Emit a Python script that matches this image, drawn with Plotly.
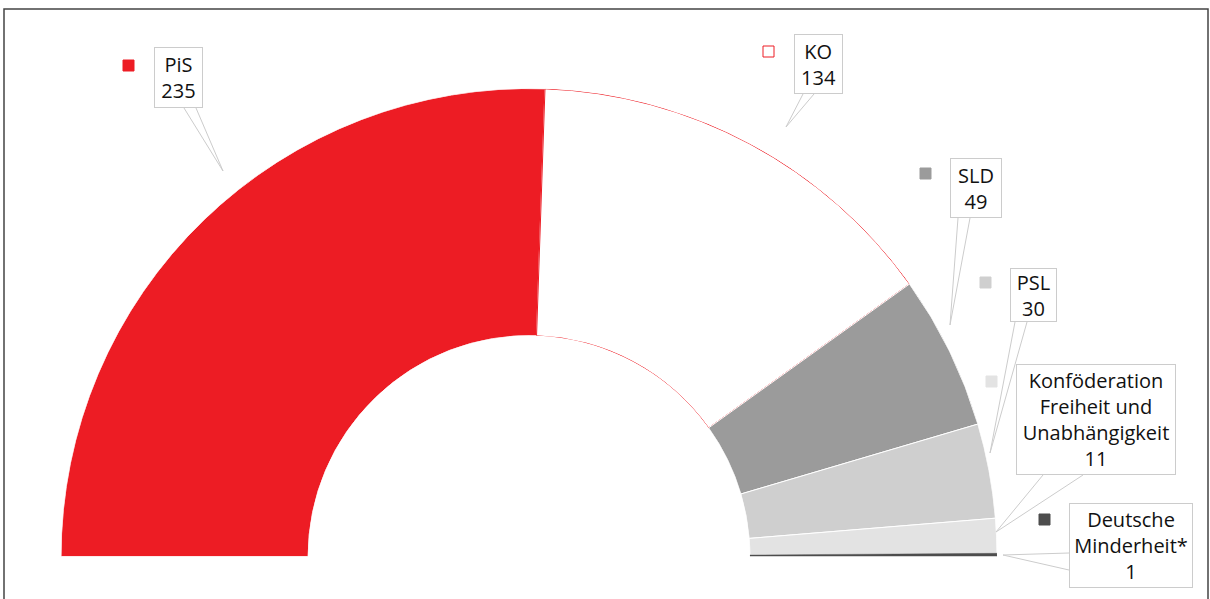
import plotly.graph_objects as go

# Sitze im Sejm 2019
parteien = ["PiS", "KO", "SLD", "PSL", "Konföderation<br>Freiheit und<br>Unabhängigkeit", "Deutsche<br>Minderheit*"]
sitze = [235, 134, 49, 30, 11, 1]
farben = ["#ED1C24", "#FFFFFF", "#9B9B9B", "#CFCFCF", "#E3E3E3", "#4D4D4D"]
randfarben = ["#FFFFFF", "#ED1C24", "#FFFFFF", "#FFFFFF", "#FFFFFF", "#4D4D4D"]
randbreiten = [1, 1, 1, 1, 1, 0.5]

W, H = 1210, 599


def px(x):
    return x / W


def py(y):
    return 1 - y / H


# Winkel: Halbkreis = alle Sitze
gesamt = sum(sitze)
breiten = [s / gesamt * 180 for s in sitze]
mitten = []
acc = 0
for b in breiten:
    mitten.append(acc + b / 2)
    acc += b

fig = go.Figure()
fig.add_trace(go.Barpolar(
    r=[1] * len(sitze), theta=mitten, width=breiten,
    marker=dict(color=farben, line=dict(color=randfarben, width=randbreiten)),
    hovertext=[p.replace("<br>", " ") + ": " + str(s) for p, s in zip(parteien, sitze)],
    hoverinfo="text",
))

# Beschriftungen: (Box links, oben, rechts, unten), Quadrat, Spitze der Sprechblase
labels = [
    dict(box=(154, 47, 203, 108), sq=(123, 60), tail=[(184, 108), (223, 171), (196, 108)]),
    dict(box=(794, 34, 843, 94), sq=(763, 46), tail=[(803, 94), (786, 127), (814, 94)]),
    dict(box=(950, 158, 1002, 218), sq=(920, 168), tail=[(958, 218), (950, 325), (970, 218)]),
    dict(box=(1010, 268, 1057, 322), sq=(980, 277), tail=[(1015, 322), (990, 453), (1027, 322)]),
    dict(box=(1016, 364, 1176, 475), sq=(986, 376), tail=[(1043, 475), (996, 532), (1083, 475)]),
    dict(box=(1069, 503, 1193, 588), sq=(1039, 514), tail=[(1069, 553), (1003, 555), (1069, 570)]),
]

shapes = []
annotations = []
for i, lab in enumerate(labels):
    x0, y0, x1, y1 = lab["box"]
    t = lab["tail"]
    path = "M {} {} L {} {} L {} {}".format(px(t[0][0]), py(t[0][1]), px(t[1][0]), py(t[1][1]),
                                              px(t[2][0]), py(t[2][1]))
    shapes.append(dict(type="path", xref="paper", yref="paper", path=path,
                       line=dict(color="#CCCCCC", width=1), fillcolor="white"))
    sx, sy = lab["sq"]
    shapes.append(dict(type="rect", xref="paper", yref="paper",
                       x0=px(sx), x1=px(sx + 11), y0=py(sy + 11), y1=py(sy),
                       fillcolor=farben[i] if i != 1 else "white",
                       line=dict(color=farben[i] if i != 1 else "#ED1C24", width=1)))
    annotations.append(dict(
        x=px((x0 + x1) / 2), y=py((y0 + y1) / 2), xref="paper", yref="paper",
        xanchor="center", yanchor="middle", showarrow=False,
        text=parteien[i] + "<br>" + str(sitze[i]),
        width=x1 - x0 - 4, height=y1 - y0 - 4, borderpad=1,
        bgcolor="white", bordercolor="#CCCCCC", borderwidth=1,
        font=dict(size=20, color="#111111", family="Open Sans"),
    ))

# Rahmen
shapes.append(dict(type="rect", xref="paper", yref="paper",
                   x0=px(4), x1=px(1208), y0=-0.1, y1=py(9),
                   line=dict(color="#444444", width=1.5), fillcolor="rgba(0,0,0,0)", layer="below"))

fig.update_layout(
    width=W, height=H, autosize=False,
    margin=dict(l=0, r=0, t=0, b=0),
    paper_bgcolor="white", plot_bgcolor="white",
    showlegend=False,
    polar=dict(
        domain=dict(x=[px(61), px(997)], y=[py(557), py(88)]),
        sector=[0, 180], hole=0.472, bgcolor="rgba(0,0,0,0)",
        radialaxis=dict(visible=False, range=[0, 1]),
        angularaxis=dict(rotation=180, direction="clockwise", showgrid=False, showline=False,
                         showticklabels=False, ticks=""),
    ),
    shapes=shapes,
    annotations=annotations,
)

# Browser-Standardrand entfernen, damit die Grafik bei (0, 0) beginnt
fig.write_html("out.html", config={"displayModeBar": False},
               post_script="document.body.style.margin='0';document.body.style.overflow='hidden';")
